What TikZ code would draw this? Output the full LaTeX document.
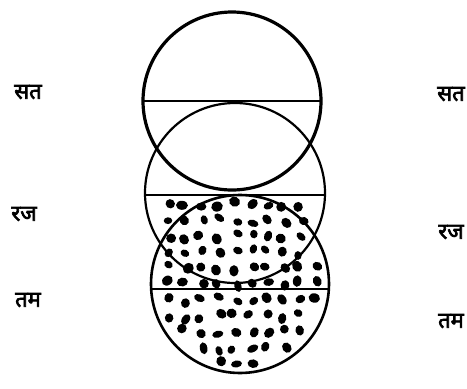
\documentclass[tikz,border=0pt]{standalone}
\usepackage{fontspec}
\newfontfamily\devfont[Script=Devanagari,FakeBold=3]{Noto Sans}
\begin{document}
\begin{tikzpicture}[x=1pt,y=-1pt,
  lbl/.style={font=\devfont\fontsize{22}{22}\selectfont,inner sep=0pt,anchor=center},
  thickcirc/.style={draw,line width=3.2pt},
  midcirc/.style={draw,line width=2.2pt},
  diam/.style={draw,line width=1.7pt},
  dot/.style={fill=black}]
\useasboundingbox (0,0) rectangle (467,389);
\fill[white] (0,0) rectangle (467,389);
\coordinate (top) at (232,101);
\coordinate (mid) at (235,193);
\coordinate (bot) at (240,284);
% dots
\pgfmathsetseed{17}
\foreach \i in {0,...,11}{
  \foreach \j in {0,...,11}{
    \pgfmathsetmacro\px{152+\i*16.5+3.5*rand}
    \pgfmathsetmacro\py{204+\j*16+3.5*rand}
    \pgfmathtruncatemacro\ok{or(((\px-240)/10)^2+((\py-284)/10)^2<(8.25)^2, and(((\px-235)/10)^2+((\py-193)/10)^2<(8.3)^2, \py>202))}
    \ifnum\ok=1
      \pgfmathsetmacro\rx{4.2+1.8*rnd}
      \pgfmathsetmacro\ry{3.4+1.6*rnd}
      \pgfmathsetmacro\ang{180*rnd}
      \fill[dot,shift={(\px,\py)},rotate=\ang] (0,0) ellipse [x radius=\rx, y radius=\ry];
    \fi
  }
}
% circles
\draw[thickcirc] (top) circle (89);
\draw[midcirc] (mid) circle (90);
\draw[thickcirc,line width=2.6pt] (bot) circle (89);
% diameters
\draw[diam] ([xshift=-89pt]top) -- ([xshift=89pt]top);
\draw[diam] ([xshift=-90pt,yshift=-2pt]mid) -- ([xshift=90pt,yshift=-2pt]mid);
\draw[diam] ([xshift=-89pt,yshift=-5pt]bot) -- ([xshift=89pt,yshift=-5pt]bot);
% labels
\node[lbl] (ls) at (28,92) {सत};
\node[lbl] (lr) at (24,214) {रज};
\node[lbl] (lt) at (28,300) {तम};
\node[lbl] (rs) at (451,94) {सत};
\node[lbl] (rr) at (451,232) {रज};
\node[lbl] (rt) at (451,321) {तम};
\end{tikzpicture}
\end{document}
